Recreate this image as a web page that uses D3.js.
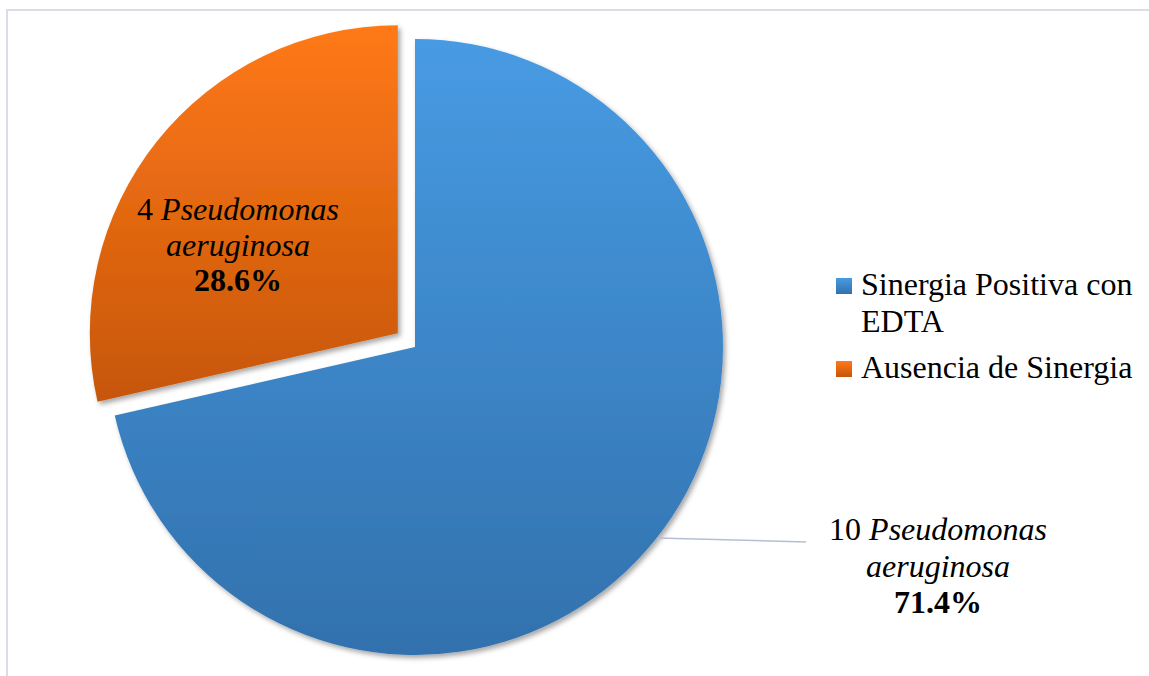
<!DOCTYPE html>
<html>
<head>
<meta charset="utf-8">
<script src="https://cdn.jsdelivr.net/npm/d3@7"></script>
<style>
  html, body { margin: 0; padding: 0; background: #fff; }
  svg { display: block; }
  text { font-family: "Liberation Serif", "Times New Roman", serif; fill: #000; }
</style>
</head>
<body>
<svg id="chart" width="1149" height="676"></svg>
<script>
// Data
const categories = ["Sinergia Positiva con EDTA", "Ausencia de Sinergia"];
const legendLines = [["Sinergia Positiva con", "EDTA"], ["Ausencia de Sinergia"]];
const counts = [10, 4];
const percentLabels = ["71.4%", "28.6%"];
const organism = "Pseudomonas";
const species = "aeruginosa";
const gradientStops = [["#479BE3", "#3271AD"], ["#FF7916", "#C6560C"]];

const W = 1149, H = 676;
const cx = 415, cy = 347, R = 308;
const explode = 22;

const svg = d3.select("#chart");
const defs = svg.append("defs");

// soft drop shadow under the slices
const shadow = defs.append("filter").attr("id", "shadow")
  .attr("x", "-10%").attr("y", "-10%").attr("width", "130%").attr("height", "130%");
shadow.append("feDropShadow").attr("dx", 2.5).attr("dy", 3).attr("stdDeviation", 2.5)
  .attr("flood-color", "#000").attr("flood-opacity", 0.35);

gradientStops.forEach((s, i) => {
  const g = defs.append("linearGradient").attr("id", "grad" + i)
    .attr("x1", 0).attr("y1", 0).attr("x2", 0).attr("y2", 1);
  g.append("stop").attr("offset", "0%").attr("stop-color", s[0]);
  g.append("stop").attr("offset", "100%").attr("stop-color", s[1]);
});

// chart area frame
svg.append("rect").attr("x", 7).attr("y", 10).attr("width", W + 20).attr("height", H + 20)
  .attr("fill", "none").attr("stroke", "#d9dee6").attr("stroke-width", 2);

const pie = d3.pie().sort(null).startAngle(0).endAngle(2 * Math.PI);
const arcs = pie(counts);
const arc = d3.arc().innerRadius(0).outerRadius(R);

const offsets = arcs.map((a, i) => {
  if (i !== 1) return [0, 0];
  const mid = (a.startAngle + a.endAngle) / 2;
  return [Math.sin(mid) * explode, -Math.cos(mid) * explode];
});

const g = svg.append("g").attr("transform", `translate(${cx},${cy})`);
g.selectAll("path.slice").data(arcs).join("path")
  .attr("class", "slice")
  .attr("d", arc)
  .attr("transform", (d, i) => `translate(${offsets[i][0]},${offsets[i][1]})`)
  .attr("fill", (d, i) => `url(#grad${i})`)
  .attr("filter", "url(#shadow)");

// data labels
const fs = 32;
const labelPos = [
  { x: 938, y: 540, dy: 36.5 },
  { x: 238, y: 220, dy: 35.5 }
];

// leader line for the large slice
svg.append("line")
  .attr("x1", 657).attr("y1", 538).attr("x2", 806).attr("y2", 542)
  .attr("stroke", "#b4c0d2").attr("stroke-width", 1.5);

arcs.forEach((a, i) => {
  const p = labelPos[i];
  const t1 = svg.append("text").attr("x", p.x).attr("y", p.y)
    .attr("text-anchor", "middle").attr("font-size", fs);
  t1.append("tspan").text(counts[i] + " ");
  t1.append("tspan").attr("font-style", "italic").text(organism);
  svg.append("text").attr("x", p.x).attr("y", p.y + p.dy)
    .attr("text-anchor", "middle").attr("font-size", fs).attr("font-style", "italic")
    .text(species);
  svg.append("text").attr("x", p.x).attr("y", p.y + 2 * p.dy)
    .attr("text-anchor", "middle").attr("font-size", fs).attr("font-weight", "bold")
    .text(percentLabels[i]);
});

// legend
const legend = svg.append("g");
const legendX = 836, sw = 16;
const legendBaselines = [295, 378];
const lineGap = 37;
categories.forEach((c, i) => {
  const base = legendBaselines[i];
  legend.append("rect").attr("x", legendX).attr("y", base - 17)
    .attr("width", sw).attr("height", sw).attr("fill", `url(#grad${i})`);
  legendLines[i].forEach((ln, j) => {
    legend.append("text").attr("x", legendX + 25).attr("y", base + j * lineGap)
      .attr("font-size", fs).text(ln);
  });
});
</script>
</body>
</html>
